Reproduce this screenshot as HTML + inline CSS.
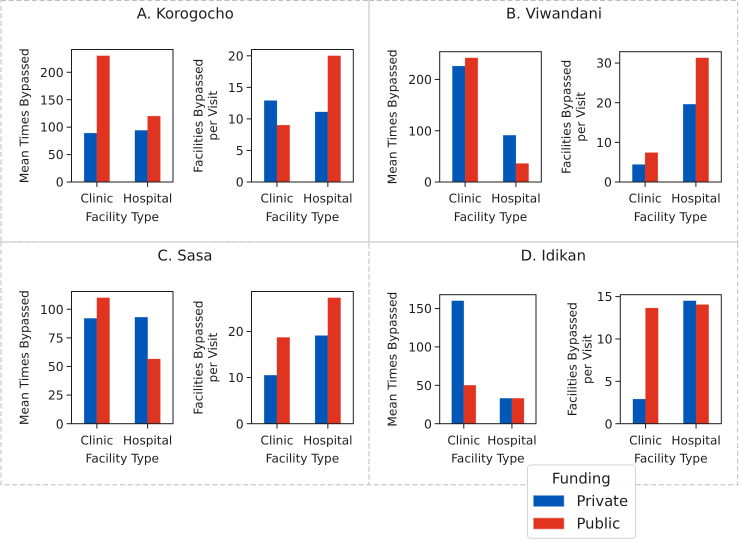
<!DOCTYPE html>
<html lang="en">
<head>
<meta charset="utf-8">
<title>Facilities bypassed by facility type and funding</title>
<style>
html,body{margin:0;padding:0;background:#fff;}
body{width:739px;height:541px;overflow:hidden;}
svg{display:block;font-family:"DejaVu Sans","Liberation Sans",sans-serif;text-rendering:geometricPrecision;filter:blur(0.3px);}
text{fill:#1c1c1c;}
</style>
</head>
<body>
<svg id="figure" xmlns="http://www.w3.org/2000/svg" width="739" height="541" viewBox="0 0 739 541">
  <g fill="none" stroke="#bdbdbd" stroke-width="1" stroke-dasharray="5 2.7">
    <rect x="1" y="0.5" width="368" height="241.5"/>
    <rect x="369" y="0.5" width="368.7" height="241.5"/>
    <rect x="1" y="242" width="368" height="242.7"/>
    <rect x="369" y="242" width="368.7" height="242.7"/>
  </g>
  <text x="185.3" y="18.5" font-size="14.8" text-anchor="middle">A. Korogocho</text>
  <text x="554" y="18.5" font-size="14.8" text-anchor="middle">B. Viwandani</text>
  <text x="185" y="260.7" font-size="14.8" text-anchor="middle">C. Sasa</text>
  <text x="553.3" y="260.7" font-size="14.8" text-anchor="middle">D. Idikan</text>
  <g id="charts"></g>
  <g>
    <rect x="527.5" y="465" width="108" height="73.2" rx="3" fill="#fff" fill-opacity="0.95" stroke="#d4d4d4" stroke-width="1"/>
    <text x="581.3" y="483.5" font-size="14.8" text-anchor="middle">Funding</text>
    <rect x="533.5" y="495.5" width="30.5" height="11" fill="#0057b7" stroke="#7fa8d9" stroke-width="0.6"/>
    <text x="576.5" y="506.2" font-size="14.8">Private</text>
    <rect x="533.5" y="518" width="30.5" height="11" fill="#e03420" stroke="#ef9a8f" stroke-width="0.6"/>
    <text x="576.5" y="528.7" font-size="14.8">Public</text>
  </g>
</svg>
<script>
const categories = ['Clinic', 'Hospital'];

const aTimesPrivate = [89, 94];
const aTimesPublic = [230, 120];
const aTimesTicks = [0, 50, 100, 150, 200];
const aVisitPrivate = [12.9, 11.1];
const aVisitPublic = [9, 20];
const aVisitTicks = [0, 5, 10, 15, 20];

const bTimesPrivate = [226, 91];
const bTimesPublic = [242, 36];
const bTimesTicks = [0, 100, 200];
const bVisitPrivate = [4.4, 19.6];
const bVisitPublic = [7.4, 31.3];
const bVisitTicks = [0, 10, 20, 30];

const cTimesPrivate = [92, 93];
const cTimesPublic = [110, 56.5];
const cTimesTicks = [0, 25, 50, 75, 100];
const cVisitPrivate = [10.5, 19.1];
const cVisitPublic = [18.7, 27.3];
const cVisitTicks = [0, 10, 20];

const dTimesPrivate = [160, 33];
const dTimesPublic = [50, 33];
const dTimesTicks = [0, 50, 100, 150];
const dVisitPrivate = [2.9, 14.5];
const dVisitPublic = [13.65, 14.05];
const dVisitTicks = [0, 5, 10, 15];

const xLabel = 'Facility Type';
const timesLabel = ['Mean Times Bypassed'];
const visitLabel = ['Facilities Bypassed', 'per Visit'];

const NS = 'http://www.w3.org/2000/svg';
const root = document.getElementById('charts');

function make(tag, parent, props, content) {
  const el = document.createElementNS(NS, tag);
  for (const k in props) el.setAttribute(k, props[k]);
  if (content !== undefined) el.textContent = content;
  parent.appendChild(el);
  return el;
}

function drawChart(id, box, priv, pub, ticks, labelLines, labelOffsets) {
  const g = make('g', root, {});
  
  

  const w = box.right - box.left;
  const h = box.bottom - box.top;
  const maxValue = Math.max(...priv, ...pub);
  const yScale = v => box.bottom - (v / (maxValue * 1.05)) * h;
  const xScale = i => box.left + ((i + 0.5) / 2) * w;
  const barWidth = w / 8;

  categories.forEach((cat, i) => {
    const cx = xScale(i);
    const p = make('rect', g, {x: cx - barWidth, y: yScale(priv[i]), width: barWidth, height: box.bottom - yScale(priv[i]), fill: '#0057b7', stroke: '#0057b7', 'stroke-opacity': 0.35, 'stroke-width': 0.6});
    
    
    const q = make('rect', g, {x: cx, y: yScale(pub[i]), width: barWidth, height: box.bottom - yScale(pub[i]), fill: '#e03420', stroke: '#e03420', 'stroke-opacity': 0.35, 'stroke-width': 0.6});
    
    
  });

  const frame = make('rect', g, {x: box.left, y: box.top, width: w, height: h, fill: 'none', stroke: '#1c1c1c', 'stroke-width': 1});
  
  

  categories.forEach((cat, i) => {
    const cx = xScale(i);
    const t = make('line', g, {x1: cx, x2: cx, y1: box.bottom, y2: box.bottom + 4.9, stroke: '#1c1c1c', 'stroke-width': 1});
    
    
    const l = make('text', g, {x: cx, y: box.bottom + 20.7, 'font-size': 12.1, 'text-anchor': 'middle'}, cat);
    
    
  });

  ticks.forEach(v => {
    const y = yScale(v);
    const t = make('line', g, {x1: box.left - 4.9, x2: box.left, y1: y, y2: y, stroke: '#1c1c1c', 'stroke-width': 1});
    
    
    const l = make('text', g, {x: box.left - 7.8, y: y + 4.6, 'font-size': 12.4, 'text-anchor': 'end'}, String(v));
    
    
  });

  const xt = make('text', g, {x: (box.left + box.right) / 2, y: box.bottom + 39, 'font-size': 12.1, 'text-anchor': 'middle'}, xLabel);
  
  

  labelLines.forEach((line, i) => {
    const px = box.left - labelOffsets[i] + 4.4;
    const py = (box.top + box.bottom) / 2;
    const yt = make('text', g, {transform: 'translate(' + px + ',' + py + ') rotate(-90)', 'font-size': 12.1, 'text-anchor': 'middle'}, line);
    
    
  });
}

const oneLine = [47.5];
const twoLine = [53.5, 39];

drawChart('korogocho-times', {left: 71.5, right: 173, top: 49.5, bottom: 182}, aTimesPrivate, aTimesPublic, aTimesTicks, timesLabel, oneLine);
drawChart('korogocho-visit', {left: 251.5, right: 353.3, top: 49.5, bottom: 182}, aVisitPrivate, aVisitPublic, aVisitTicks, visitLabel, twoLine);
drawChart('viwandani-times', {left: 439.7, right: 541.3, top: 51.7, bottom: 182}, bTimesPrivate, bTimesPublic, bTimesTicks, timesLabel, oneLine);
drawChart('viwandani-visit', {left: 619.7, right: 721.3, top: 51.7, bottom: 182}, bVisitPrivate, bVisitPublic, bVisitTicks, visitLabel, twoLine);
drawChart('sasa-times', {left: 71.5, right: 173, top: 291.5, bottom: 423.7}, cTimesPrivate, cTimesPublic, cTimesTicks, timesLabel, oneLine);
drawChart('sasa-visit', {left: 251.5, right: 353.3, top: 291.5, bottom: 423.7}, cVisitPrivate, cVisitPublic, cVisitTicks, visitLabel, twoLine);
drawChart('idikan-times', {left: 439.7, right: 536, top: 294.7, bottom: 423.7}, dTimesPrivate, dTimesPublic, dTimesTicks, timesLabel, oneLine);
drawChart('idikan-visit', {left: 620.3, right: 721.3, top: 294.7, bottom: 423.7}, dVisitPrivate, dVisitPublic, dVisitTicks, visitLabel, [48.3, 33.3]);
</script>
</body>
</html>
